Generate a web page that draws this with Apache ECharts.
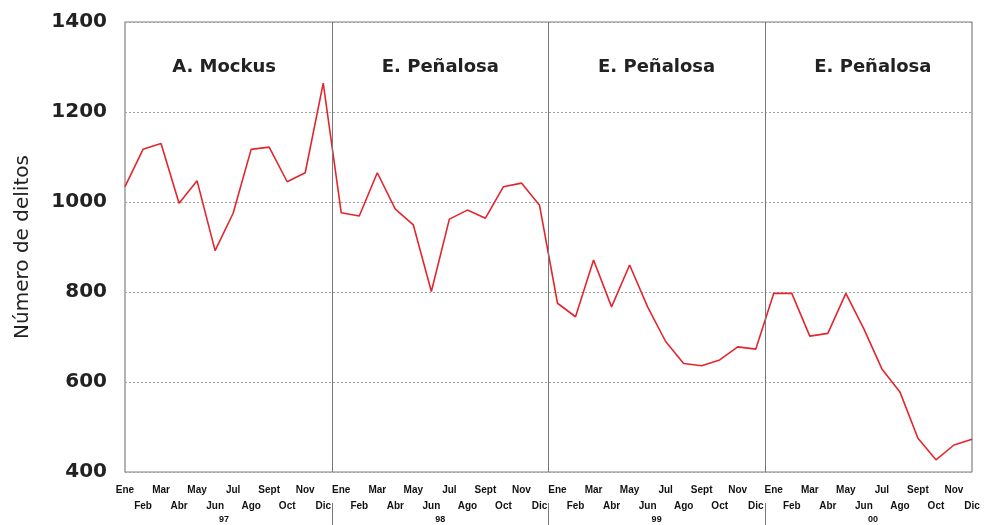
<!DOCTYPE html>
<html>
<head>
<meta charset="utf-8">
<script src="https://cdn.jsdelivr.net/npm/echarts@6/dist/echarts.min.js"></script>
<style>
html,body{margin:0;padding:0;background:#fff;}
#chart{width:984px;height:525px;}
</style>
</head>
<body>
<div id="chart"></div>
<script>
// ---- data ----
const months = ['Ene','Feb','Mar','Abr','May','Jun','Jul','Ago','Sept','Oct','Nov','Dic'];
const years = ['97','98','99','00'];
const mayors = ['A. Mockus','E. Peñalosa','E. Peñalosa','E. Peñalosa'];
const delitos97 = [1034,1117,1130,997,1047,892,975,1117,1122,1045,1065,1264];
const delitos98 = [976,969,1065,984,949,801,962,982,964,1034,1042,993];
const delitos99 = [775,745,871,767,860,767,690,641,636,649,678,673];
const delitos00 = [797,797,702,708,797,718,629,578,475,427,460,473];
const yTicks = [400,600,800,1000,1200,1400];

const allValues = [].concat(delitos97, delitos98, delitos99, delitos00);
const seriesData = allValues.map((v, i) => [i, v]);
const nPts = allValues.length;
const dividers = years.slice(1).map((_, i) => 12 * (i + 1) - 0.5);
const yearCenters = years.map((_, i) => 12 * i + 5.5);

const chart = echarts.init(document.getElementById('chart'), null, {renderer: 'canvas'});
chart.setOption({
  animation: false,
  backgroundColor: '#ffffff',
  grid: {left: 125, right: 12, top: 22, bottom: 53, show: true, borderColor: '#808080', borderWidth: 1.2, backgroundColor: 'transparent'},
  xAxis: [{
    type: 'value', min: 0, max: nPts - 1, interval: 1,
    axisLine: {show: false}, axisTick: {show: false}, splitLine: {show: false},
    axisLabel: {
      showMinLabel: true, showMaxLabel: true,
      margin: 10, fontSize: 10, fontWeight: 'bold', lineHeight: 16,
      fontFamily: 'Liberation Sans, Arial, sans-serif', color: '#111',
      formatter: v => (v % 2 ? '\n' : '') + months[v % 12]
    }
  }, {
    type: 'value', min: 0, max: nPts - 1, position: 'bottom', offset: 31,
    axisLine: {show: false}, splitLine: {show: false},
    axisTick: {show: true, customValues: dividers, length: 22, lineStyle: {color: '#777', width: 1}},
    axisLabel: {
      customValues: yearCenters, margin: 12, fontSize: 9, fontWeight: 'bold',
      fontFamily: 'Liberation Sans, Arial, sans-serif', color: '#111',
      formatter: v => years[Math.round((v - 5.5) / 12)]
    }
  }],
  yAxis: {
    type: 'value', min: yTicks[0], max: yTicks[yTicks.length - 1], interval: 200,
    axisLine: {show: false}, axisTick: {show: false},
    splitLine: {show: true, lineStyle: {color: '#a0a0a0', type: [2, 2], width: 1}},
    axisLabel: {margin: 18, fontSize: 20, fontWeight: 'bold', fontFamily: 'DejaVu Sans, sans-serif', color: '#222',
      formatter: v => String(v)},
    name: 'Número de delitos', nameLocation: 'middle', nameGap: 92,
    nameTextStyle: {fontSize: 20, fontFamily: 'DejaVu Sans, sans-serif', color: '#222'}
  },
  series: [{
    type: 'line', data: seriesData, xAxisIndex: 0, symbol: 'none',
    lineStyle: {color: '#e3262e', width: 1.6},
    markLine: {
      silent: true, symbol: 'none', label: {show: false},
      lineStyle: {color: '#777', type: 'solid', width: 1},
      data: dividers.map(d => ({xAxis: d}))
    },
    markPoint: {
      silent: true, symbol: 'circle', symbolSize: 1,
      itemStyle: {color: 'rgba(0,0,0,0)'},
      label: {show: true, position: 'inside', formatter: p => p.name,
        fontSize: 18, fontWeight: 'bold', fontFamily: 'DejaVu Sans, sans-serif', color: '#222'},
      data: mayors.map((m, i) => ({name: m, coord: [yearCenters[i], 1300]}))
    }
  }]
});
</script>
</body>
</html>
